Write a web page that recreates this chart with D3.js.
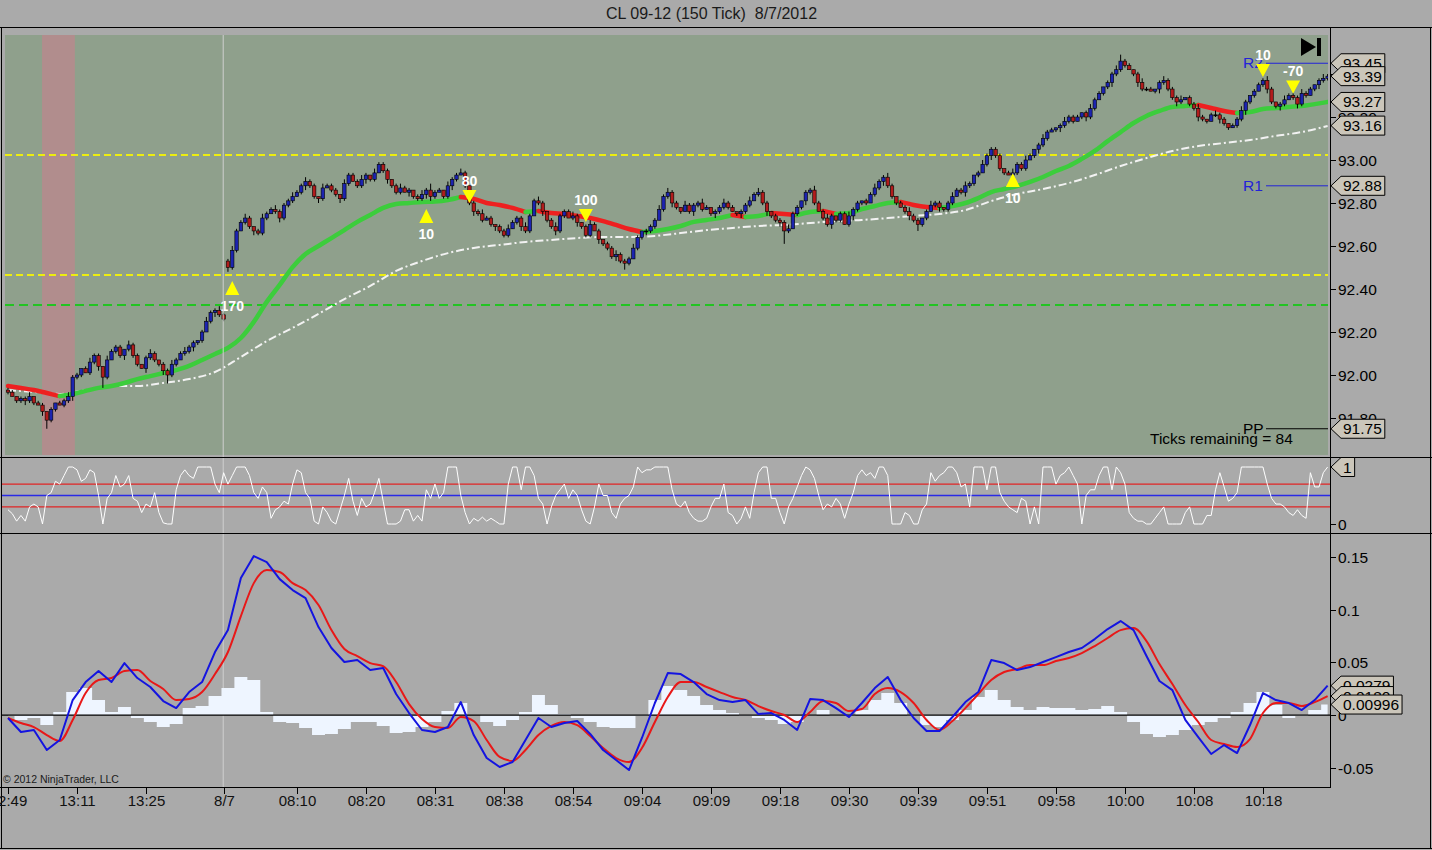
<!DOCTYPE html>
<html><head><meta charset="utf-8">
<script src="https://cdn.jsdelivr.net/npm/d3@7"></script>
<style>
body{margin:0;background:#aaaaaa;overflow:hidden}
svg{display:block}
text{font-family:"Liberation Sans",Arial,sans-serif}
</style>
</head><body>
<svg id="c" width="1432" height="850"></svg>
<script>
const title = "CL 09-12 (150 Tick)  8/7/2012";

// ---- price bars (150 tick) ----
const closes = [
91.92,91.90,91.88,91.89,91.88,91.90,91.87,91.86,91.83,91.79,
91.84,91.87,91.86,91.88,91.90,91.99,92.00,92.03,92.01,92.06,
92.09,92.04,91.99,92.07,92.11,92.13,92.09,92.12,92.14,92.09,
92.05,92.03,92.08,92.10,92.07,92.05,92.02,92.00,92.05,92.07,
92.10,92.11,92.13,92.15,92.16,92.20,92.25,92.29,92.30,92.28,
92.26,92.50,92.58,92.67,92.71,92.73,92.69,92.67,92.66,92.73,
92.75,92.77,92.76,92.73,92.79,92.81,92.83,92.85,92.88,92.90,
92.88,92.83,92.82,92.87,92.88,92.86,92.84,92.82,92.89,92.93,
92.90,92.88,92.91,92.93,92.91,92.94,92.98,92.95,92.91,92.88,
92.85,92.87,92.85,92.86,92.83,92.82,92.84,92.86,92.83,92.85,
92.86,92.83,92.88,92.91,92.93,92.94,92.88,92.80,92.76,92.75,
92.72,92.73,92.70,92.69,92.67,92.65,92.68,92.71,92.73,92.69,
92.67,92.74,92.81,92.80,92.76,92.72,92.69,92.67,92.74,92.76,
92.73,92.74,92.71,92.69,92.65,92.70,92.67,92.63,92.61,92.59,
92.55,92.56,92.53,92.52,92.54,92.59,92.64,92.67,92.67,92.69,
92.72,92.77,92.83,92.85,92.80,92.78,92.76,92.79,92.76,92.79,
92.80,92.77,92.78,92.75,92.76,92.78,92.80,92.78,92.76,92.75,
92.76,92.79,92.81,92.84,92.85,92.80,92.76,92.74,92.72,92.71,
92.67,92.68,92.75,92.78,92.81,92.85,92.86,92.80,92.76,92.73,
92.70,92.74,92.72,92.75,92.70,92.74,92.77,92.80,92.81,92.80,
92.84,92.87,92.90,92.92,92.88,92.83,92.80,92.78,92.76,92.74,
92.72,92.70,92.73,92.76,92.79,92.80,92.78,92.77,92.80,92.83,
92.86,92.85,92.88,92.89,92.93,92.94,92.98,93.02,93.05,93.02,
92.96,92.94,92.93,92.94,92.98,92.96,93.00,93.02,93.05,93.07,
93.10,93.13,93.14,93.15,93.16,93.18,93.20,93.18,93.20,93.22,
93.20,93.24,93.28,93.31,93.34,93.36,93.40,93.42,93.46,93.44,
93.42,93.40,93.36,93.33,93.33,93.32,93.33,93.36,93.37,93.33,
93.29,93.27,93.28,93.29,93.26,93.24,93.20,93.19,93.18,93.21,
93.21,93.19,93.17,93.15,93.16,93.19,93.23,93.27,93.30,93.32,
93.35,93.37,93.33,93.27,93.25,93.26,93.28,93.30,93.29,93.26,
93.31,93.30,93.33,93.35,93.37,93.38,93.39];
const firstOpen = 91.93;
const openOverrides = [[51, 92.53]];
// wick lengths in ticks (0.01)
const hiWick = [
1,1,0,1,1,2,0,1,1,0, 1,0,1,1,2,1,1,0,1,2, 1,1,0,2,1,1,1,0,2,1, 1,0,1,2,1,0,1,1,2,1,
1,2,1,1,0,1,2,1,1,2, 1,1,2,1,1,2,1,0,1,2, 1,1,2,1,1,1,2,1,1,2, 1,1,0,2,1,1,1,0,2,1,
1,1,2,1,0,2,1,1,1,0, 1,2,1,1,0,1,2,1,3,1, 1,0,2,1,1,2,1,0,1,1, 2,1,1,0,1,1,2,1,1,1,
2,1,1,2,1,0,1,2,1,1, 1,2,1,0,1,2,1,1,0,1, 1,2,1,1,1,2,1,0,1,1, 1,2,1,2,1,1,0,2,1,1,
1,2,1,0,1,1,2,1,1,0, 1,1,2,1,2,1,1,0,1,1, 1,2,1,1,0,1,1,2,1,1, 2,1,0,1,1,2,1,1,0,1,
1,2,1,1,2,1,0,1,1,2, 1,1,0,1,2,1,1,0,1,2, 1,1,2,1,0,1,2,1,1,1, 1,0,1,2,1,1,2,1,0,1,
2,1,1,0,1,2,1,1,1,0, 1,2,1,1,0,1,1,2,3,1, 1,0,1,2,1,1,0,1,2,1, 1,1,2,0,1,1,2,1,0,1,
2,1,1,0,1,1,2,1,0,1, 1,1,2,1,0,1,2,1,1,1, 2,1,1,0,1,2,1];
const loWick = [
1,0,1,1,2,1,1,0,2,4, 1,1,0,1,1,2,1,1,0,1, 1,2,5,1,0,1,1,2,1,1, 1,0,2,1,1,1,2,4,1,1,
0,1,1,2,1,1,0,1,2,1, 1,2,1,1,0,1,1,2,1,1, 1,0,1,2,1,1,1,0,1,2, 1,1,2,1,0,1,1,2,1,1,
0,1,1,2,1,1,0,1,2,1, 1,1,0,2,1,1,1,2,2,1, 0,1,1,2,1,0,1,1,2,1, 1,0,1,2,1,1,1,0,1,2,
1,1,0,1,2,1,1,2,1,1, 0,1,2,1,1,1,0,2,1,1, 1,2,1,3,1,0,1,1,2,1, 1,0,1,1,2,1,1,0,1,2,
1,1,0,1,2,1,1,1,0,1, 2,1,1,0,1,1,2,1,1,2, 6,1,0,1,1,2,1,1,0,1, 1,2,1,1,0,1,2,1,1,1,
0,1,1,2,1,1,1,0,1,2, 1,3,1,1,0,1,2,1,1,1, 0,1,2,1,1,1,0,1,2,1, 1,1,0,2,1,1,1,0,1,2,
1,1,0,1,2,1,1,1,0,1, 2,1,1,0,1,1,2,1,1,1, 0,1,2,1,1,0,1,2,1,1, 1,2,1,0,1,1,2,1,1,0,
1,2,1,1,0,1,1,2,1,1, 0,1,2,1,1,2,1,0,1,2, 1,1,0,1,2,1,1];

// ---- moving averages ----
const fastStep = 3;
const fastMA = [
91.949,91.940,91.930,91.916,91.902,91.912,91.926,91.940,91.949,91.963,
91.981,91.995,92.009,92.023,92.042,92.070,92.098,92.126,92.172,92.247,
92.340,92.419,92.502,92.563,92.600,92.637,92.674,92.712,92.744,92.777,
92.795,92.800,92.805,92.807,92.814,92.828,92.819,92.800,92.791,92.777,
92.758,92.763,92.753,92.749,92.740,92.730,92.716,92.698,92.679,92.665,
92.670,92.679,92.693,92.712,92.721,92.730,92.744,92.735,92.740,92.753,
92.749,92.744,92.758,92.763,92.749,92.753,92.772,92.786,92.800,92.805,
92.791,92.781,92.777,92.786,92.800,92.823,92.851,92.865,92.879,92.898,
92.921,92.949,92.972,93.005,93.042,93.088,93.130,93.172,93.205,93.228,
93.247,93.251,93.256,93.242,93.228,93.219,93.223,93.237,93.242,93.247,
93.251,93.260,93.270];
const slowStep = 6;
const slowMA = [
91.930,91.921,91.912,91.930,91.949,91.949,91.963,91.981,92.014,92.084,
92.158,92.219,92.284,92.353,92.414,92.484,92.530,92.567,92.591,92.605,
92.619,92.628,92.637,92.642,92.642,92.647,92.660,92.674,92.684,92.693,
92.698,92.707,92.716,92.721,92.730,92.740,92.749,92.767,92.809,92.842,
92.865,92.893,92.930,92.972,93.009,93.042,93.065,93.079,93.093,93.112,
93.130,93.158];

// ---- horizontal levels / pivots ----
const yellowLevels = [93.023, 92.465];
const greenLevels = [92.326];
const pivotNames = ["R2", "R1", "PP"];
const pivotValues = [93.45, 92.88, 91.75];
const priceTicks = [91.8, 92.0, 92.2, 92.4, 92.6, 92.8, 93.0, 93.2, 93.4];
const priceMarkers = [93.45, 93.39, 93.27, 93.16, 92.88, 91.75];
const highlightBars = [7.9, 15.5];
const sessionBreakBar = 49.9;
const ticksRemaining = "Ticks remaining = 84";

// ---- trade signals ----
const signalBars = [52, 97, 107, 134, 233, 291, 298];
const signalPrices = [92.405, 92.74, 92.833, 92.744, 92.907, 93.419, 93.342];
const signalDirs = [1, 1, -1, -1, 1, -1, -1];
const signalLabels = ["170", "10", "80", "100", "10", "10", "-70"];

// ---- oscillator panel ----
const osc = [
0.25,0.18,0.05,0.15,0.05,0.3,0.35,0.3,0,0.5,
0.55,0.75,0.7,0.85,1,1,0.95,0.75,0.8,0.95,
0.9,0.5,0,0.45,0.55,0.85,0.65,0.7,0.85,0.45,
0.4,0.2,0.35,0.3,0.55,0.2,0.02,0,0,0.6,
0.85,0.95,0.85,0.8,1,1,1,1,0.7,0.55,
0.9,0.7,0.85,1,1,1,0.85,0.55,0.45,0.65,
0.55,0.1,0.25,0.3,0.4,0.35,0.7,0.95,0.9,0.55,
0.45,0.05,0,0.3,0.2,0.05,0,0.25,0.5,0.8,
0.4,0.15,0.45,0.3,0.35,0.55,0.8,0.4,0,0,
0,0.05,0.25,0.25,0.05,0.15,0.05,0.6,0.45,0.7,
0.45,0.55,1,1,1,0.5,0.2,0,0.1,0.05,
0.12,0.05,0.1,0.05,0,0,0.7,1,1,0.6,
1,1,0.85,0.45,0.35,0,0.3,0.5,0.6,0.7,
0.45,0.6,0.5,0.25,0.05,0,0.3,0.7,0.5,0.5,
0.2,0.1,0.35,0.45,0.5,0.65,1,0.9,0.95,0.95,
1,1,1,1,0.6,0.35,0.3,0.4,0.2,0.1,
0.05,0.05,0.1,0.3,0.45,0.45,0.7,0.2,0.15,0,
0.1,0.3,0.1,0.55,0.9,1,1,0.45,0.45,0.2,
0,0.3,0.45,0.65,0.85,1,0.95,0.8,0.5,0.25,
0.35,0.3,0.45,0.35,0.1,0.35,0.55,0.85,0.95,0.85,
0.9,0.8,1,1,0.85,0,0,0,0.2,0.15,
0,0,0.25,0.35,0.9,0.75,0.85,0.9,1,1,
0.9,0.65,0.7,0.3,1,1,1,0.6,1,1,
0.55,0.4,0.3,0.25,0.2,0.45,0.4,0,0.3,0,
1,1,1,0.7,0.85,0.9,1,0.85,0.7,0,
0.5,0.6,0.6,0.85,1,1,0.6,1,0.9,0.7,
0.2,0.1,0.05,0.05,0,0,0.1,0.2,0.3,0,
0,0,0,0.2,0.3,0,0,0,0.15,0.15,
0.6,0.9,0.65,0.4,0.45,0.55,1,1,1,1,
1,1,0.7,0.45,0.35,0.35,0.3,0.2,0.15,0.25,
0.15,0.1,0.9,0.65,0.65,0.9,1];
const oscLevels = [0.7, 0.5, 0.3];
const oscTicks = [0];
const oscMarker = 1;

// ---- MACD panel ----
const macdStep = 3;
const macd = [
-0.0028,-0.0161,-0.0142,-0.0332,-0.0237,0.0142,0.0313,0.0417,0.0313,0.0493,
0.0351,0.0266,0.0133,0.0066,0.0218,0.0313,0.0598,0.0806,0.1300,0.1509,
0.1452,0.1290,0.1186,0.1110,0.0835,0.0636,0.0503,0.0522,0.0427,0.0446,
0.0199,0.0019,-0.0142,-0.0161,-0.0114,0.0123,-0.0190,-0.0408,-0.0493,-0.0446,
-0.0237,-0.0028,-0.0114,-0.0076,-0.0057,-0.0180,-0.0332,-0.0427,-0.0522,-0.0218,
0.0114,0.0398,0.0389,0.0313,0.0199,0.0142,0.0123,0.0142,0.0009,0.0019,
-0.0047,-0.0142,0.0152,0.0142,0.0066,-0.0019,0.0114,0.0256,0.0361,0.0142,
-0.0028,-0.0152,-0.0152,-0.0019,0.0123,0.0218,0.0522,0.0493,0.0427,0.0455,
0.0503,0.0550,0.0598,0.0636,0.0721,0.0816,0.0892,0.0806,0.0560,0.0323,
0.0237,-0.0047,-0.0209,-0.0370,-0.0285,-0.0361,-0.0095,0.0209,0.0142,0.0114,
0.0047,0.0142,0.0279];
const signalLine = [
-0.0028,-0.0076,-0.0114,-0.0190,-0.0247,-0.0047,0.0209,0.0332,0.0351,0.0417,
0.0427,0.0323,0.0247,0.0142,0.0152,0.0218,0.0389,0.0598,0.0939,0.1252,
0.1376,0.1357,0.1252,0.1186,0.1044,0.0806,0.0626,0.0560,0.0493,0.0465,
0.0313,0.0104,-0.0038,-0.0114,-0.0123,-0.0019,-0.0057,-0.0237,-0.0398,-0.0436,
-0.0332,-0.0190,-0.0104,-0.0066,-0.0095,-0.0199,-0.0313,-0.0408,-0.0446,-0.0313,
-0.0066,0.0171,0.0313,0.0313,0.0266,0.0218,0.0171,0.0142,0.0085,0.0038,
0.0000,-0.0066,0.0028,0.0133,0.0114,0.0038,0.0057,0.0199,0.0256,0.0218,
0.0114,-0.0047,-0.0142,-0.0057,0.0066,0.0199,0.0332,0.0408,0.0436,0.0474,
0.0474,0.0512,0.0541,0.0588,0.0655,0.0731,0.0806,0.0825,0.0702,0.0484,
0.0294,0.0095,-0.0066,-0.0237,-0.0275,-0.0304,-0.0228,0.0019,0.0114,0.0114,
0.0085,0.0123,0.0180];
const histogram = [
-0.0009,-0.0047,-0.0028,-0.0095,0.0028,0.0218,0.0256,0.0142,0.0028,0.0076,
-0.0028,-0.0066,-0.0114,-0.0085,0.0066,0.0085,0.0180,0.0256,0.0361,0.0332,
0.0028,-0.0066,-0.0076,-0.0123,-0.0190,-0.0180,-0.0133,-0.0066,-0.0066,-0.0104,
-0.0171,-0.0161,-0.0114,-0.0066,0.0038,0.0114,0.0000,-0.0066,-0.0104,-0.0047,
0.0028,0.0190,0.0095,0.0009,-0.0028,-0.0066,-0.0114,-0.0123,-0.0123,-0.0009,
0.0142,0.0275,0.0237,0.0180,0.0095,0.0047,0.0019,-0.0009,-0.0028,-0.0047,
-0.0085,-0.0066,-0.0009,0.0047,-0.0009,-0.0009,0.0047,0.0142,0.0209,0.0114,
-0.0009,-0.0095,-0.0114,-0.0047,0.0047,0.0171,0.0237,0.0142,0.0076,0.0047,
0.0076,0.0066,0.0066,0.0047,0.0057,0.0085,0.0028,-0.0066,-0.0180,-0.0209,
-0.0190,-0.0142,-0.0095,-0.0066,-0.0028,0.0028,0.0114,0.0218,0.0095,-0.0028,
-0.0009,0.0047,0.00996];
const macdTicks = [-0.05, 0, 0.05, 0.1, 0.15];
const macdTickLabels = ["-0.05", "0", "0.05", "0.1", "0.15"];
const macdMarkers = [0.0279, 0.0180, 0.00996];
const macdMarkerLabels = ["0.0279", "0.0180", "0.00996"];

// ---- time axis ----
const timeTickBars = [0,16,32,50,67,83,99,115,131,147,163,179,195,211,227,243,259,275,291];
const timeTickLabels = ["12:49","13:11","13:25","8/7","08:10","08:20","08:31","08:38","08:54","09:04","09:09","09:18","09:30","09:39","09:51","09:58","10:00","10:08","10:18"];

// ================= drawing =================
const svg = d3.select("#c");
const N = closes.length;
const AX = 1330; // right axis x
const FS = 15.5; // axis font size
const x = d3.scaleLinear().domain([0, N - 1]).range([8, 8 + (N - 1) * 4.3125]);
const yP = d3.scaleLinear().domain([91.8, 93.0]).range([418, 160]);
const yO = d3.scaleLinear().domain([0, 1]).range([524, 467]);
const yM = d3.scaleLinear().domain([-0.05, 0.15]).range([767.7, 557]);

const defs = svg.append("defs");
defs.append("clipPath").attr("id", "cp").append("rect").attr("x", 5).attr("y", 35).attr("width", 1323).attr("height", 420);
defs.append("clipPath").attr("id", "co").append("rect").attr("x", 2).attr("y", 458).attr("width", 1328).attr("height", 74);
defs.append("clipPath").attr("id", "cm").append("rect").attr("x", 2).attr("y", 534).attr("width", 1328).attr("height", 252);

svg.append("rect").attr("width", 1432).attr("height", 850).attr("fill", "#aaaaaa");

// title
svg.append("text").attr("x", 711.5).attr("y", 18.5).attr("text-anchor", "middle")
  .attr("font-size", 16).attr("fill", "#1a1a1a").style("white-space", "pre").text(title);

// price panel background
svg.append("rect").attr("x", 5).attr("y", 35).attr("width", 1323).attr("height", 420).attr("fill", "#8fa08c");
const gP = svg.append("g").attr("clip-path", "url(#cp)");
gP.append("rect").attr("x", x(highlightBars[0])).attr("y", 35)
  .attr("width", x(highlightBars[1]) - x(highlightBars[0])).attr("height", 420).attr("fill", "#b18d8d");

// session break line (all panels)
svg.append("line").attr("x1", x(sessionBreakBar)).attr("x2", x(sessionBreakBar))
  .attr("y1", 35).attr("y2", 787).attr("stroke", "#cfcfcf").attr("stroke-width", 1);

// level lines
yellowLevels.forEach(v => gP.append("line").attr("x1", 5).attr("x2", 1328).attr("y1", yP(v)).attr("y2", yP(v))
  .attr("stroke", "#eded10").attr("stroke-width", 2).attr("stroke-dasharray", "7,4"));
greenLevels.forEach(v => gP.append("line").attr("x1", 5).attr("x2", 1328).attr("y1", yP(v)).attr("y2", yP(v))
  .attr("stroke", "#22c422").attr("stroke-width", 2).attr("stroke-dasharray", "9,5"));

// slow MA (white dash-dot)
gP.append("path").datum(slowMA)
  .attr("d", d3.line().x((d, i) => x(i * slowStep)).y(d => yP(d)).curve(d3.curveMonotoneX))
  .attr("fill", "none").attr("stroke", "#f2f2f2").attr("stroke-width", 2).attr("stroke-dasharray", "8,3,2,3");

// fast MA colored by slope
const fastLine = d3.line().x(d => x(d[0])).y(d => yP(d[1])).curve(d3.curveMonotoneX);
let runs = [];
for (let i = 0; i < fastMA.length - 1; i++) {
  const up = fastMA[i + 1] >= fastMA[i];
  const p0 = [i * fastStep, fastMA[i]], p1 = [(i + 1) * fastStep, fastMA[i + 1]];
  if (runs.length && runs[runs.length - 1].up === up) runs[runs.length - 1].pts.push(p1);
  else runs.push({ up, pts: [p0, p1] });
}
runs.forEach(r => gP.append("path").datum(r.pts).attr("d", fastLine).attr("fill", "none")
  .attr("stroke", r.up ? "#3ccd3c" : "#ee2020").attr("stroke-width", 4.5).attr("stroke-linecap", "round"));

// candles
const bars = closes.map((c, i) => {
  let o = i === 0 ? firstOpen : closes[i - 1];
  openOverrides.forEach(ov => { if (ov[0] === i) o = ov[1]; });
  const hi = Math.max(o, c) + hiWick[i] * 0.01, lo = Math.min(o, c) - loWick[i] * 0.01;
  return { i, o, c, hi, lo };
});
const gC = gP.append("g");
gC.selectAll("line.w").data(bars).join("line").attr("class", "w")
  .attr("x1", d => x(d.i)).attr("x2", d => x(d.i)).attr("y1", d => yP(d.hi)).attr("y2", d => yP(d.lo))
  .attr("stroke", "#000").attr("stroke-width", 1);
gC.selectAll("rect.b").data(bars).join("rect").attr("class", "b")
  .attr("x", d => x(d.i) - 1.7).attr("width", 3.4)
  .attr("y", d => yP(Math.max(d.o, d.c)))
  .attr("height", d => Math.max(1, Math.abs(yP(d.o) - yP(d.c))))
  .attr("fill", d => d.c > d.o ? "#1c24b0" : (d.c < d.o ? "#b21c1c" : "#000"))
  .attr("stroke", "#000").attr("stroke-width", 0.6);

// pivots
pivotValues.forEach((v, k) => {
  const col = pivotNames[k] === "PP" ? "#000" : "#2323d8";
  gP.append("line").attr("x1", 1266).attr("x2", 1328).attr("y1", yP(v)).attr("y2", yP(v)).attr("stroke", col).attr("stroke-width", 1);
  gP.append("text").attr("x", 1243).attr("y", yP(v) + 5).attr("font-size", FS).attr("fill", col).text(pivotNames[k]);
});

// signals
signalBars.forEach((b, k) => {
  const cx = x(b), cy = yP(signalPrices[k]), d = signalDirs[k];
  const pts = d > 0 ? [[cx, cy - 7], [cx - 7, cy + 7], [cx + 7, cy + 7]] : [[cx, cy + 7], [cx - 7, cy - 6], [cx + 7, cy - 6]];
  gP.append("polygon").attr("points", pts.map(p => p.join(",")).join(" ")).attr("fill", "#ffff00");
  gP.append("text").attr("x", cx).attr("y", d > 0 ? cy + 23 : cy - 10).attr("text-anchor", "middle")
    .attr("font-size", 14).attr("font-weight", "bold").attr("fill", "#ffffff").text(signalLabels[k]);
});

// ticks remaining + play icon
gP.append("text").attr("x", 1150).attr("y", 444).attr("font-size", FS).attr("fill", "#000").text(ticksRemaining);
svg.append("polygon").attr("points", "1301,38 1301,56 1316,47").attr("fill", "#000");
svg.append("rect").attr("x", 1317).attr("y", 38).attr("width", 4).attr("height", 18).attr("fill", "#000");

// ---- oscillator ----
const gO = svg.append("g").attr("clip-path", "url(#co)");
oscLevels.forEach(v => gO.append("line").attr("x1", 2).attr("x2", AX).attr("y1", yO(v)).attr("y2", yO(v))
  .attr("stroke", v === 0.5 ? "#2a2ae6" : "#e02424").attr("stroke-width", 1.3));
gO.append("path").datum(osc).attr("d", d3.line().x((d, i) => x(i)).y(d => yO(d)))
  .attr("fill", "none").attr("stroke", "#ffffff").attr("stroke-width", 1);

// ---- MACD ----
const gM = svg.append("g").attr("clip-path", "url(#cm)");
gM.append("path").datum(histogram)
  .attr("d", d3.area().x((d, i) => x(i * macdStep)).y0(yM(0)).y1(d => yM(d)).curve(d3.curveStep))
  .attr("fill", "#eef5ff");
gM.append("line").attr("x1", 2).attr("x2", AX).attr("y1", yM(0)).attr("y2", yM(0)).attr("stroke", "#000").attr("stroke-width", 1.2);
gM.append("path").datum(signalLine).attr("d", d3.line().x((d, i) => x(i * macdStep)).y(d => yM(d)).curve(d3.curveMonotoneX))
  .attr("fill", "none").attr("stroke", "#e81818").attr("stroke-width", 2);
gM.append("path").datum(macd).attr("d", d3.line().x((d, i) => x(i * macdStep)).y(d => yM(d)))
  .attr("fill", "none").attr("stroke", "#1414e0").attr("stroke-width", 2).attr("stroke-linejoin", "round");
svg.append("text").attr("x", 3).attr("y", 783).attr("font-size", 10.5).attr("fill", "#1a1a1a").text("© 2012 NinjaTrader, LLC");

// ---- frame & separators ----
const frame = svg.append("g").attr("stroke", "#000").attr("stroke-width", 1).attr("shape-rendering", "crispEdges");
frame.append("line").attr("x1", 0).attr("x2", 1432).attr("y1", 27.5).attr("y2", 27.5);
frame.append("line").attr("x1", 1.5).attr("x2", 1.5).attr("y1", 27).attr("y2", 849);
frame.append("line").attr("x1", 1430.5).attr("x2", 1430.5).attr("y1", 27).attr("y2", 849);
frame.append("line").attr("x1", 0).attr("x2", 1432).attr("y1", 848.5).attr("y2", 848.5);
frame.append("line").attr("x1", 0).attr("x2", 1432).attr("y1", 457.5).attr("y2", 457.5);
frame.append("line").attr("x1", 0).attr("x2", 1432).attr("y1", 533.5).attr("y2", 533.5);
frame.append("line").attr("x1", 0).attr("x2", AX).attr("y1", 787.5).attr("y2", 787.5);
frame.append("line").attr("x1", AX + 0.5).attr("x2", AX + 0.5).attr("y1", 27).attr("y2", 788);

// ---- right axis ticks ----
function rightTicks(vals, labels, scale) {
  vals.forEach((v, k) => {
    const yy = Math.round(scale(v)) + 0.5;
    svg.append("line").attr("x1", AX).attr("x2", AX + 6).attr("y1", yy).attr("y2", yy).attr("stroke", "#000");
    svg.append("text").attr("x", AX + 8).attr("y", yy + 5.5).attr("font-size", FS).attr("fill", "#000").text(labels[k]);
  });
}
rightTicks(priceTicks, priceTicks.map(d3.format(".2f")), yP);
rightTicks(oscTicks, oscTicks.map(String), yO);
rightTicks(macdTicks, macdTickLabels, yM);

function marker(yy, label) {
  const g = svg.append("g");
  const p = g.append("path").attr("fill", "#cbc6ba").attr("stroke", "#000").attr("stroke-width", 1);
  const t = g.append("text").attr("x", AX + 13).attr("y", yy + 5.5).attr("font-size", FS).attr("fill", "#000").text(label);
  const w = t.node().getComputedTextLength();
  const r = AX + 13 + w + 3;
  p.attr("d", `M${AX + 1},${yy} L${AX + 11},${yy - 9.5} L${r},${yy - 9.5} L${r},${yy + 9.5} L${AX + 11},${yy + 9.5} Z`);
}
priceMarkers.forEach(v => marker(yP(v), d3.format(".2f")(v)));
marker(yO(oscMarker), String(oscMarker));
macdMarkers.forEach((v, k) => marker(yM(v), macdMarkerLabels[k]));

// ---- time axis ----
timeTickBars.forEach((b, k) => {
  const xx = Math.round(x(b)) + 0.5;
  svg.append("line").attr("x1", xx).attr("x2", xx).attr("y1", 787).attr("y2", 794).attr("stroke", "#000");
  svg.append("text").attr("x", xx).attr("y", 806).attr("text-anchor", "middle").attr("font-size", 15)
    .attr("fill", "#111").text(timeTickLabels[k]);
});
</script>
</body></html>
